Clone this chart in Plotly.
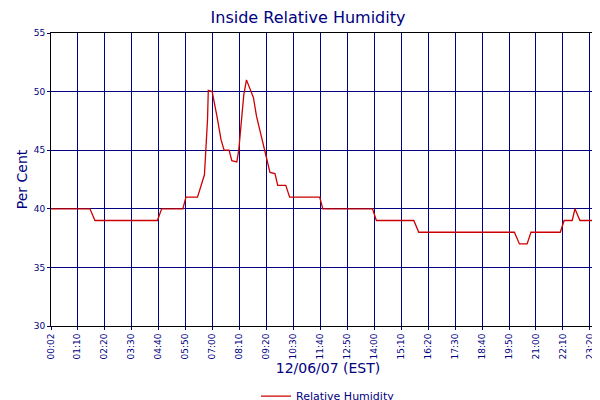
import plotly.graph_objects as go

times = ["00:02","01:43","01:56","04:38","04:49","05:44","05:52","06:22","06:40","06:48","06:50","07:00",
         "07:13","07:23","07:31","07:44","07:51","08:04","08:09","08:14","08:22","08:29","08:47","08:55",
         "09:07","09:17","09:25","09:30","09:43","09:50","10:11","10:21","11:39","11:47","13:56","14:06",
         "15:43","15:56","20:04","20:17","20:37","20:47","22:03","22:13","22:34","22:41","22:54","23:59"]
humidity = [40,40,39,39,40,40,41,41,42.9,47.6,50.1,50,
            47.8,45.9,45,45,44.1,44,45,46.7,49.7,51,49.5,47.9,
            46.3,45,43.8,43.1,43,42,42,41,41,40,40,39,
            39,38,38,37,37,38,38,39,39,40,39,39]
tick_labels = ["00:02","01:10","02:20","03:30","04:40","05:50","07:00","08:10","09:20","10:30","11:40",
               "12:50","14:00","15:10","16:20","17:30","18:40","19:50","21:00","22:10","23:20","23:59"]

def tomin(s):
    h, m = s.split(":")
    return int(h) * 60 + int(m)

x = [tomin(t) for t in times]
tv = [tomin(t) for t in tick_labels]
navy = "#000080"

fig = go.Figure(go.Scatter(x=x, y=humidity, mode="lines", name="Relative Humidity",
                           line=dict(color="#cc0000", width=1.3)))
fig.update_layout(
    width=600, height=400, margin=dict(l=43, r=3, t=25, b=82, autoexpand=False),
    paper_bgcolor="white", plot_bgcolor="white",
    font=dict(family="DejaVu Sans", color=navy, size=9),
    title=dict(text="Inside Relative Humidity", x=0.5, xanchor="center", y=0.99, yanchor="top",
               font=dict(size=16, color=navy)),
    showlegend=True,
    legend=dict(orientation="h", x=0.5, xanchor="center", y=-0.19, yanchor="top",
                font=dict(size=11, color=navy)),
)
fig.update_xaxes(range=[2, 1439], tickvals=tv, ticktext=tick_labels, tickangle=-90,
                 showgrid=True, gridcolor=navy, gridwidth=1, showline=True, linecolor="black",
                 mirror=True, zeroline=False, ticks="outside", ticklen=3, tickcolor=navy,
                 automargin=False,
                 title=dict(text="12/06/07 (EST)", font=dict(size=14, color=navy), standoff=2))
fig.update_yaxes(range=[30, 55], dtick=5, showgrid=True, gridcolor=navy, gridwidth=1,
                 showline=True, linecolor="black", mirror=True, zeroline=False,
                 ticks="outside", ticklen=3, tickcolor=navy, automargin=False,
                 title=dict(text="Per Cent", font=dict(size=14, color=navy), standoff=2))
fig.write_html("out.html")
